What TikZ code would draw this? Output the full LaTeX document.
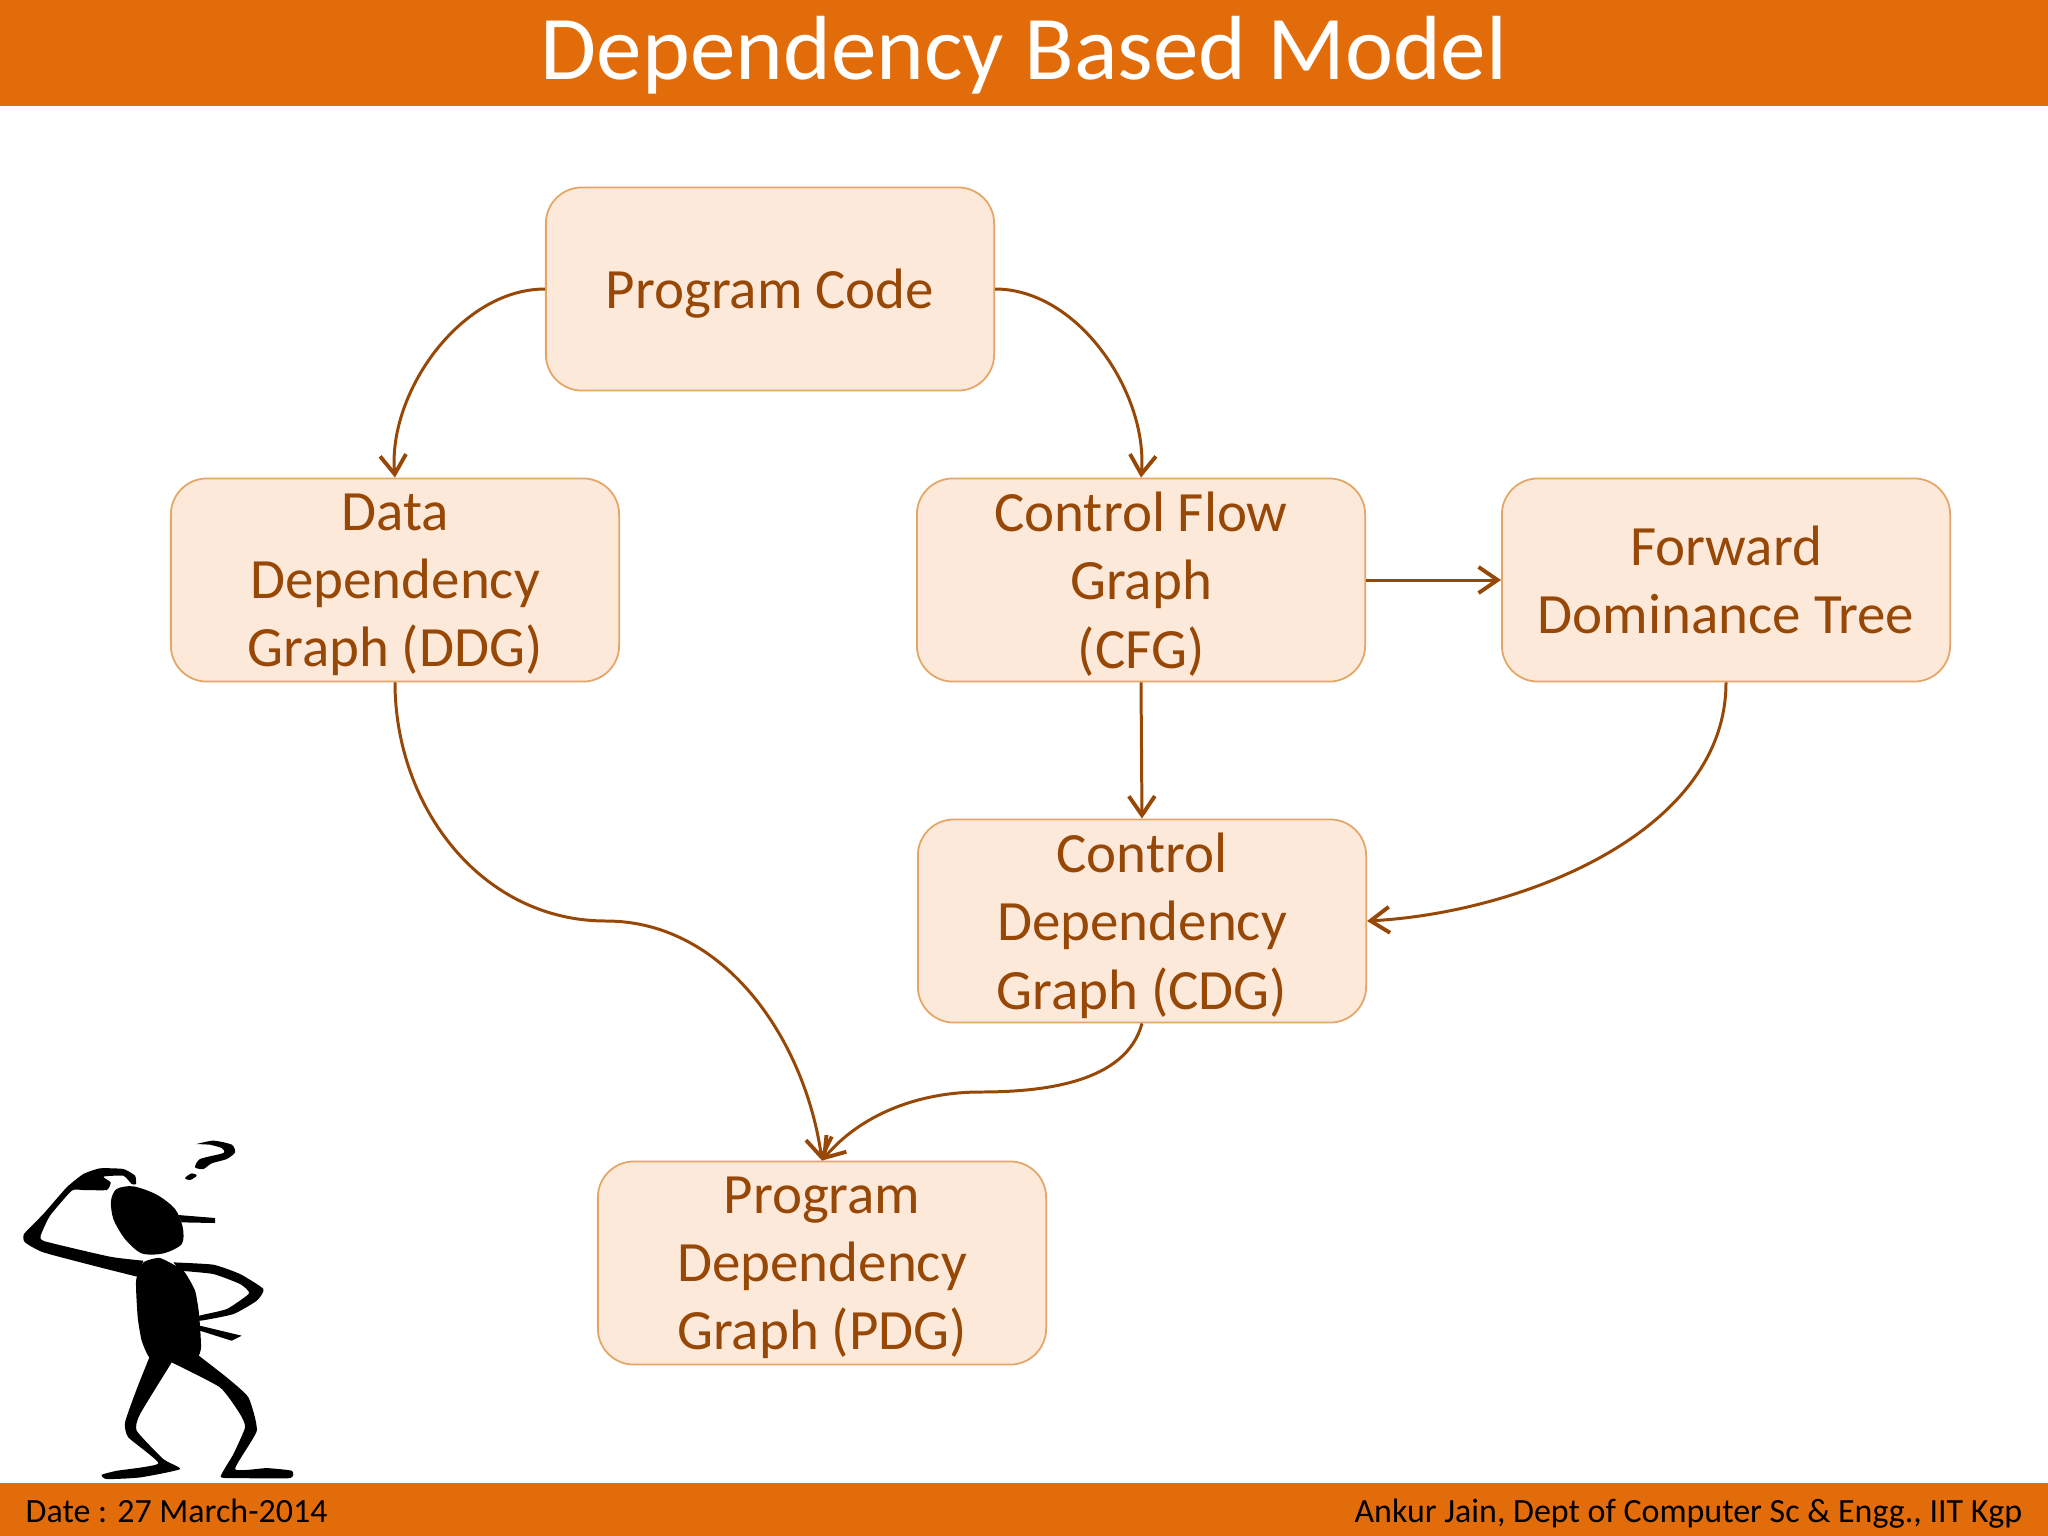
\documentclass[tikz,border=0pt]{standalone}
\usepackage{fontspec}
\setmainfont{Carlito}
\usetikzlibrary{arrows.meta}
\definecolor{barorange}{HTML}{E36C0A}
\definecolor{boxfill}{HTML}{FDE9D9}
\definecolor{boxline}{HTML}{E5A566}
\definecolor{flowbrown}{HTML}{984806}
\tikzset{
	bar/.style={fill=barorange, draw=none, minimum width=20.6cm, inner sep=0pt, anchor=north west},
	stepbox/.style={rectangle, rounded corners=0.36cm, fill=boxfill, draw=boxline, line width=0.5pt,
		minimum width=4.48cm, minimum height=2.03cm, inner sep=0pt, align=center, text depth=0pt,
		text=flowbrown, font=\fontsize{16.2}{19.4}\selectfont},
	flow/.style={draw=flowbrown, line width=0.85pt, -{Straight Barb[length=1.9mm,width=2.6mm,line width=1.1pt]}},
	flowpart/.style={draw=flowbrown, line width=0.85pt},
	foot/.style={font=\fontsize{9.65}{12}\selectfont, inner sep=0pt, text=black},
}
\begin{document}
\begin{tikzpicture}[x=0.01cm, y=-0.01cm]
\useasboundingbox (0,0) rectangle (2048,1536);

% First the two orange bars
\node[bar, minimum height=1.10cm] (header) at (-6,-5) {};
\node[anchor=base, inner sep=0pt, text=white, font=\fontsize{25.9}{30}\selectfont] (title) at (1024,79) {Dependency Based Model};
\node[bar, minimum height=0.60cm] (footer) at (-6,1482) {};
\node[foot, anchor=base west] (date) at (25,1522) {Date : 27 March-2014};
\node[foot, anchor=base east] (credit) at (2023,1522) {Ankur Jain, Dept of Computer Sc \& Engg., IIT Kgp};

% Now the boxes
\node[stepbox] (code) at (770,289) {Program Code};
\node[stepbox] (ddg) at (395,580) {Data\\Dependency\\Graph (DDG)};
\node[stepbox] (cfg) at (1141,580) {Control Flow\\Graph\\(CFG)};
\node[stepbox] (fdt) at (1726,580) {Forward\\Dominance Tree};
\node[stepbox] (cdg) at (1142,921) {Control\\Dependency\\Graph (CDG)};
\node[stepbox] (pdg) at (822,1263) {Program\\Dependency\\Graph (PDG)};

% Bends of the two S shaped connectors
\coordinate (ddgbend) at (606,921);
\coordinate (cdgbend) at (980,1092);

% Now the connectors
\draw[flow] (code.west) to[out=180, in=95, looseness=0.9] (ddg.north);
\draw[flow] (code.east) to[out=0, in=85, looseness=0.9] (cfg.north);
\draw[flow] (cfg.east) -- (fdt.west);
\draw[flow] (cfg.south) -- (cdg.north);
\draw[flow] (fdt.south) to[out=-90, in=3, looseness=0.9] (cdg.east);
\draw[flowpart] (ddg.south) to[out=-90, in=180] (ddgbend);
\draw[flow] (ddgbend) to[out=0, in=98, looseness=0.95] (pdg.north);
\draw[flowpart] (cdg.south) to[out=-105, in=0, looseness=0.9] (cdgbend);
\draw[flow] (cdgbend) to[out=180, in=50, looseness=0.9] (pdg.north);

% Last the puzzled man, in crop pixels
\begin{scope}[yshift=-11.2cm, x=0.03333mm, y=-0.03333mm]
	% head and nose
	\fill plot[smooth cycle, tension=0.5] coordinates {(333,240) (350,205) (400,197) (470,222) (525,265) (548,320) (545,370) (490,398) (425,398) (375,355) (340,295)};
	\fill (535,283) -- (645,292) -- (645,307) -- (545,305) -- cycle;
	% raised arm and hand
	\fill plot[smooth, tension=0.3] coordinates {(430,420) (330,408) (135,362) (122,345) (150,285) (215,210) (250,208) (320,208) (332,185) (310,168) (370,165) (395,190) (408,190) (405,165) (370,145) (300,143) (250,160) (200,200) (130,280) (72,340) (75,365) (130,395) (300,440) (412,468)} -- cycle;
	% body
	\fill plot[smooth cycle, tension=0.3] coordinates {(408,480) (430,425) (480,412) (550,450) (585,510) (597,580) (603,680) (590,712) (520,725) (450,712) (425,660) (413,590)};
	% other arm and the tail
	\fill plot[smooth, tension=0.3] coordinates {(520,425) (640,432) (720,460) (790,505) (770,540) (700,580) (600,600) (598,585) (680,565) (747,518) (720,490) (640,460) (540,450)} -- cycle;
	\fill (600,615) -- (725,645) -- (695,660) -- (600,630) -- cycle;
	% legs and feet
	\fill plot[smooth, tension=0.3] coordinates {(450,705) (410,805) (375,905) (385,950) (475,1028) (350,1050) (305,1062) (320,1075) (420,1070) (540,1045) (490,1015) (410,930) (420,880) (515,725)} -- cycle;
	\fill plot[smooth, tension=0.3] coordinates {(515,725) (660,800) (720,880) (735,920) (700,1000) (662,1068) (720,1072) (870,1072) (875,1050) (800,1042) (705,1045) (770,930) (745,830) (680,770) (590,700)} -- cycle;
	% question mark
	\fill plot[smooth, tension=0.4] coordinates {(590,70) (640,60) (695,72) (705,95) (680,115) (635,128) (610,145) (585,140) (600,115) (670,97) (665,82) (630,72)} -- cycle;
	\fill plot[smooth cycle, tension=0.5] coordinates {(555,172) (575,158) (590,165) (570,178)};
\end{scope}
\end{tikzpicture}
\end{document}
